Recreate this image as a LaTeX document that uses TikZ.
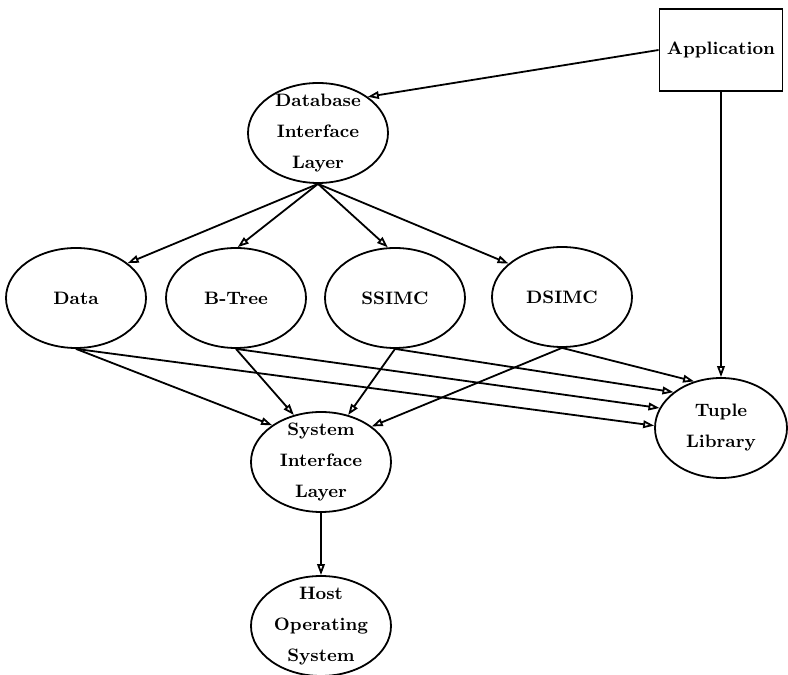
\documentclass[tikz,border=0pt]{standalone}
\usepackage{tikz}
\usetikzlibrary{arrows.meta,shapes.geometric}

\begin{document}
\begin{tikzpicture}[
  x=0.5pt, y=0.5pt,
  layer/.style={draw, ellipse, line width=0.9pt, align=center, inner xsep=0pt, inner ysep=-6pt,
    minimum width=70pt, minimum height=50pt, font=\fontsize{9}{15.5}\selectfont\bfseries},
  box/.style={draw, rectangle, line width=0.9pt, align=center, minimum width=61.5pt, minimum height=41pt,
    font=\fontsize{9}{15.5}\selectfont\bfseries},
  arr/.style={-{Triangle[open, length=5.5pt, width=3.8pt]}, line width=0.9pt}
]
\useasboundingbox (0,0) rectangle (788,675);

\node[box] (app) at (721,625) {Application};
\node[layer] (dbi) at (318,542) {Database\\Interface\\Layer};

\node[layer] (data) at (76,377) {Data};
\node[layer] (btree) at (236,377) {B-Tree};
\node[layer] (ssimc) at (395,377) {SSIMC};
\node[layer] (dsimc) at (562,378) {DSIMC};

\node[layer, minimum width=66pt] (tuple) at (721,247) {Tuple\\Library};
\node[layer] (sysi) at (321,213) {System\\Interface\\Layer};
\node[layer] (host) at (321,49) {Host\\Operating\\System};

\draw[arr] (app.west) -- (dbi.36);
\draw[arr] (app.south) -- (tuple.north);

\draw[arr] (dbi.south) -- (data.34);
\draw[arr] (dbi.south) -- (btree.88);
\draw[arr] (dbi.south) -- (ssimc.98);
\draw[arr] (dbi.south) -- (dsimc.148);

\draw[arr] (data.south) -- (sysi.143);
\draw[arr] (data.south) -- (tuple.178);
\draw[arr] (btree.south) -- (sysi.120);
\draw[arr] (btree.south) -- (tuple.162);
\draw[arr] (ssimc.south) -- (sysi.60);
\draw[arr] (ssimc.south) -- (tuple.143);
\draw[arr] (dsimc.south) -- (sysi.35);
\draw[arr] (dsimc.south) -- (tuple.120);

\draw[arr] (sysi.south) -- (host.north);

\end{tikzpicture}
\end{document}
